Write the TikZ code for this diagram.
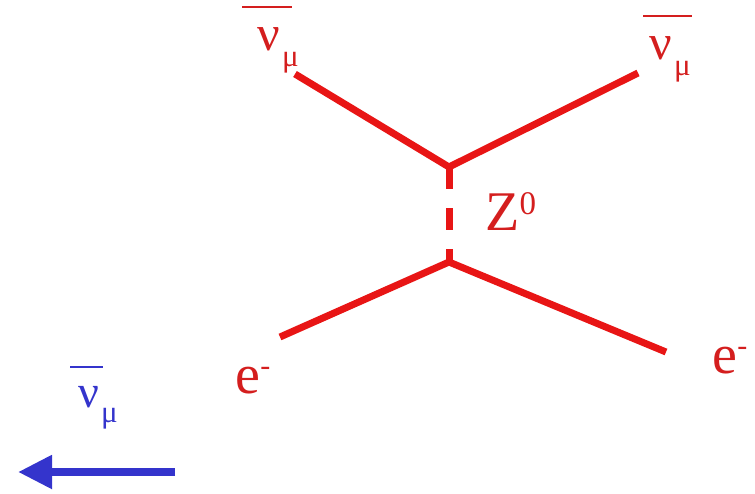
\documentclass[tikz,border=0pt]{standalone}
\usepackage{fontspec}
\setmainfont{Liberation Serif}
\usetikzlibrary{calc,arrows.meta}
\definecolor{fd-line}{HTML}{E81515}
\definecolor{fd-text}{HTML}{D41E1E}
\definecolor{fd-blue}{HTML}{3434CC}

% antineutrino label: #1 bar shift, #2 bar length (em)
\newcommand{\nubarmu}[2]{\rlap{\hspace{-#1em}\raisebox{0.84em}{\rule{#2em}{0.05em}}}ν\hspace{0.04em}\raisebox{-0.33em}{\fontsize{31}{31}\selectfont μ}}

\begin{document}
\begin{tikzpicture}[x=1pt, y=-1pt, thick]
    \useasboundingbox (0,0) rectangle (755,493);

    \tikzset{
        fermion/.style={fd-line, line width=7pt, line join=miter},
        boson/.style={fd-line, line width=7pt, dash pattern=on 22pt off 19pt},
        lbl/.style={inner sep=0pt, anchor=base west, text=fd-text}
    }

    % Vertices and external legs
    \coordinate (vup) at (449,167);
    \coordinate (vdown) at (449,262);
    \coordinate (nuin) at (295,74);
    \coordinate (nuout) at (638,73);
    \coordinate (ein) at (280,337);
    \coordinate (eout) at (666,352);

    % Draw the fermion lines
    \draw[fermion] (nuin) -- (vup) -- (nuout);
    \draw[fermion] (ein) -- (vdown) -- (eout);

    % Draw the Z exchange
    \draw[boson] (vup) -- (vdown);

    % Add labels
    \node[lbl, font=\fontsize{50}{50}\selectfont] (nuinlbl) at (257,50) {\nubarmu{0.3}{1.0}};
    \node[lbl, font=\fontsize{50}{50}\selectfont] (nuoutlbl) at (649,59) {\nubarmu{0.12}{0.98}};
    \node[lbl, font=\fontsize{56}{56}\selectfont] (zlbl) at (485,230) {Z\raisebox{0.27em}{\fontsize{33}{33}\selectfont 0}};
    \node[lbl, font=\fontsize{56}{56}\selectfont] (einlbl) at (235,393) {e\raisebox{0.31em}{\fontsize{30}{30}\selectfont -}};
    \node[lbl, font=\fontsize{56}{56}\selectfont] (eoutlbl) at (712,373) {e\raisebox{0.31em}{\fontsize{30}{30}\selectfont -}};

    % Incoming beam direction
    \coordinate (beamtail) at (175,472);
    \coordinate (beamhead) at (18,472);
    \draw[fd-blue, line width=8pt, -{Triangle[length=34pt, width=32pt]}] (beamtail) -- (beamhead);
    \node[lbl, text=fd-blue, font=\fontsize{46}{46}\selectfont] (beamlbl) at (78,407) {\nubarmu{0.18}{0.72}};
\end{tikzpicture}
\end{document}
